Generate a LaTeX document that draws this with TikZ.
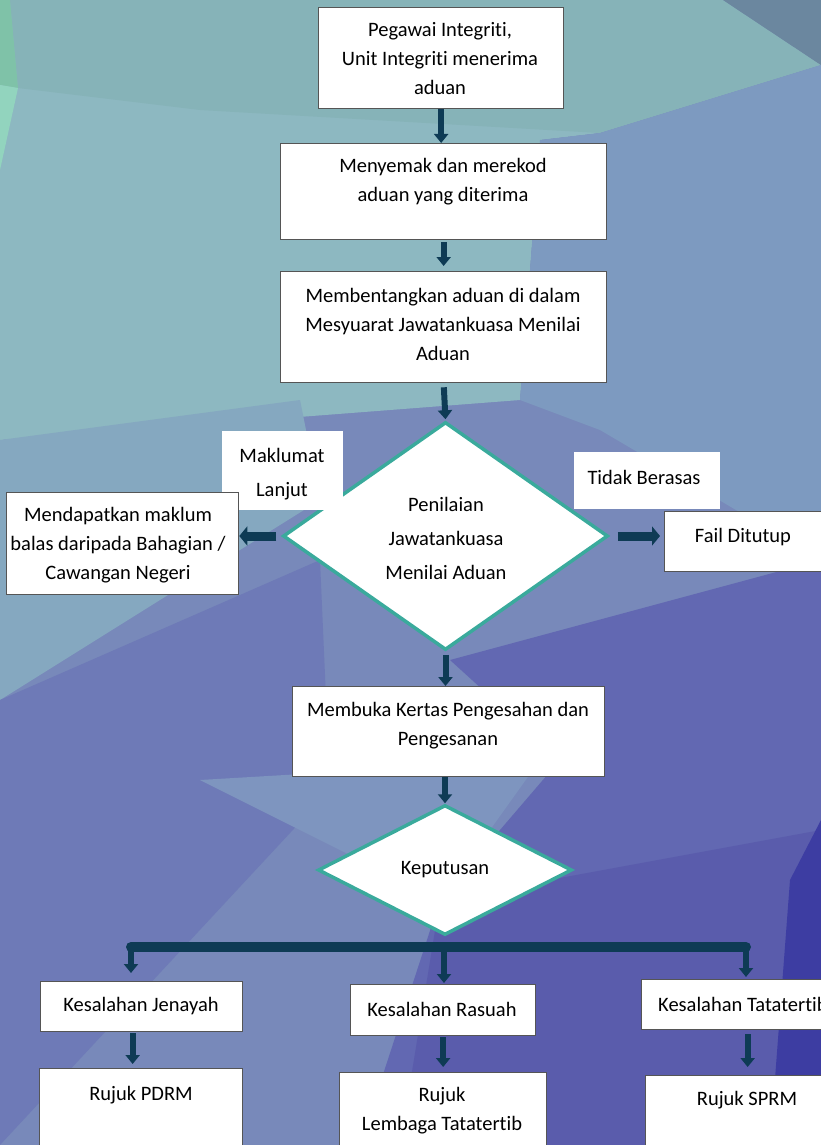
\documentclass[tikz,border=0pt]{standalone}
\usepackage{fontspec}
\setmainfont{Carlito}[Ligatures={NoCommon,NoRare}]
\usetikzlibrary{shapes.geometric,arrows.meta}
\definecolor{navyarr}{HTML}{0E3B55}
\definecolor{tealline}{HTML}{3AAA9C}
\definecolor{boxgray}{HTML}{555555}
\definecolor{bgA}{HTML}{8DB8C1}
\definecolor{bgB}{HTML}{86B3B8}
\definecolor{bgC}{HTML}{7D9AC0}
\definecolor{bgD}{HTML}{6B879F}
\definecolor{bgE}{HTML}{85A8C0}
\definecolor{bgF}{HTML}{7889BA}
\definecolor{bgG}{HTML}{6E7AB7}
\definecolor{bgH}{HTML}{6268B2}
\definecolor{bgI}{HTML}{3D3DA2}
\definecolor{bgJ}{HTML}{7E95BF}
\definecolor{bgK}{HTML}{7FC2A8}
\definecolor{bgL}{HTML}{92D4BE}
\definecolor{bgM}{HTML}{5A5CAC}
\begin{document}
\begin{tikzpicture}[x=1pt,y=-1pt,
  every node/.style={font=\fontsize{20.5}{29}\selectfont, text=black},
  boxn/.style={draw=boxgray, line width=1.3pt, fill=white, inner sep=0pt, anchor=north west},
  plainbox/.style={fill=white, inner sep=0pt, anchor=north west},
  txt/.style={align=center, inner sep=0pt},
  dia/.style={diamond, draw=tealline, line width=3.5pt, fill=white, inner sep=0pt, align=center},
  arr/.style={draw=navyarr, line width=6pt, -{Triangle[width=14pt,length=9pt]}},
  harr/.style={draw=navyarr, line width=9pt, -{Triangle[width=19pt,length=8pt]}},
  barline/.style={draw=navyarr, line width=10pt, line cap=round}]
\useasboundingbox (0,0) rectangle (821,1145);
\clip (0,0) rectangle (821,1145);
% background low-poly
\fill[bgF] (0,0) rectangle (821,1145);
\fill[bgA] (0,0) -- (560,0) -- (600,133) -- (540,140) -- (520,400) -- (0,440) -- cycle;
\fill[bgB] (18,88) -- (10,0) -- (723,0) -- (821,65) -- (600,133) -- (200,110) -- cycle;
\fill[bgC] (540,140) -- (600,133) -- (821,65) -- (821,560) -- (600,430) -- (520,400) -- cycle;
\fill[bgD] (723,0) -- (821,0) -- (821,65) -- cycle;
\fill[bgK] (0,0) -- (10,0) -- (18,88) -- (0,85) -- cycle;
\fill[bgL] (0,85) -- (18,88) -- (0,170) -- cycle;
\fill[bgE] (0,440) -- (300,400) -- (320,500) -- (0,700) -- cycle;
\fill[bgG] (0,700) -- (320,560) -- (330,790) -- (0,1145) -- cycle;
\fill[bgJ] (200,780) -- (540,760) -- (440,900) -- cycle;
\fill[bgH] (450,660) -- (821,560) -- (821,1145) -- (360,1145) -- (440,900) -- (560,760) -- cycle;
\fill[bgM] (440,900) -- (821,830) -- (821,1145) -- (400,1145) -- cycle;
\fill[bgI] (790,880) -- (821,820) -- (821,1145) -- (770,1145) -- cycle;
% boxes
\node[boxn, minimum width=245pt, minimum height=101pt] (b1) at (318,7) {};
\node[txt] (t1) at (440,59) {Pegawai Integriti,\\Unit Integriti menerima\\aduan};
\node[boxn, minimum width=326pt, minimum height=96pt] (b2) at (280,143) {};
\node[txt] (t2) at (443,182) {Menyemak dan merekod\\aduan yang diterima};
\node[boxn, minimum width=326pt, minimum height=111pt] (b3) at (280,271) {};
\node[txt] (t3) at (443,324) {Membentangkan aduan di dalam\\Mesyuarat Jawatankuasa Menilai\\Aduan};
\node[dia, minimum width=325pt, minimum height=228pt, font=\fontsize{20.5}{34}\selectfont] (d1) at (445.5,536) {};
\node[txt, font=\fontsize{20.5}{34}\selectfont] (td1) at (446,538) {Penilaian\\Jawatankuasa\\Menilai Aduan};
\node[plainbox, minimum width=121pt, minimum height=79pt] (ml) at (222,431) {};
\node[txt, font=\fontsize{20.5}{34}\selectfont] (tml) at (282,474) {Maklumat\\Lanjut};
\node[boxn, minimum width=232pt, minimum height=102pt] (mb) at (6,492) {};
\node[txt] (tmb) at (118,545) {Mendapatkan maklum\\balas daripada Bahagian /\\Cawangan Negeri};
\node[plainbox, minimum width=146pt, minimum height=57pt] (tb) at (574,452) {};
\node[txt] (ttb) at (644,477) {Tidak Berasas};
\node[boxn, minimum width=200pt, minimum height=60pt] (fd) at (664,511) {};
\node[txt] (tfd) at (743,537) {Fail Ditutup};
\node[boxn, minimum width=312pt, minimum height=90pt] (b4) at (292,686) {};
\node[txt] (t4) at (448,726) {Membuka Kertas Pengesahan dan\\Pengesanan};
\node[dia, minimum width=254pt, minimum height=130pt] (d2) at (445,870) {Keputusan};
\node[boxn, minimum width=202pt, minimum height=50pt] (kj) at (40,981) {};
\node[txt] (tkj) at (141,1006) {Kesalahan Jenayah};
\node[boxn, minimum width=185pt, minimum height=51pt] (kr) at (350,984) {};
\node[txt] (tkr) at (442,1009) {Kesalahan Rasuah};
\node[boxn, minimum width=240pt, minimum height=50pt] (kt) at (641,979) {};
\node[txt, anchor=west] (tkt) at (658,1004) {Kesalahan Tatatertib};
\node[boxn, minimum width=203pt, minimum height=100pt] (rp) at (39,1068) {};
\node[txt] (trp) at (141,1095) {Rujuk PDRM};
\node[boxn, minimum width=207pt, minimum height=100pt] (rl) at (339,1072) {};
\node[txt] (trl) at (442,1111) {Rujuk\\Lembaga Tatatertib};
\node[boxn, minimum width=204pt, minimum height=100pt] (rs) at (645,1075) {};
\node[txt] (trs) at (747,1100) {Rujuk SPRM};
% connectors
\draw[arr] (b1.south) -- (b1.south |- b2.north);
\draw[arr, shorten >=5pt, shorten <=2pt] (b2.south) -- (b3.north);
\draw[arr, shorten <=4pt, shorten >=1pt] (b3.south) -- (d1.north);
\draw[arr, shorten <=3pt] (d1.south) -- (d1.south |- b4.north);
\draw[arr] (d2.north |- b4.south) -- (d2.north);
\draw[harr, shorten <=5pt] (d1.west) -- (d1.west -| mb.east);
\draw[harr, shorten <=8pt, shorten >=4pt] (d1.east) -- (d1.east -| fd.west);
\coordinate (bl) at (131,947);
\coordinate (br) at (746,947);
\coordinate (bm) at (444,947);
\draw[barline] (bl) -- (br);
\draw[arr, shorten >=8pt] (bl) -- (bl |- kj.north);
\draw[arr, shorten >=1pt] (bm) -- (bm |- kr.north);
\draw[arr, shorten >=2pt] (br) -- (br |- kt.north);
\draw[arr, shorten <=1pt, shorten >=4pt] ([xshift=-9pt]kj.south) -- ([xshift=-9pt]kj.south |- rp.north);
\draw[arr, shorten <=1pt, shorten >=5pt] (kr.south) -- (kr.south |- rl.north);
\draw[arr, shorten <=4pt, shorten >=8pt] (rs.north |- kt.south) -- (rs.north);
\end{tikzpicture}
\end{document}
